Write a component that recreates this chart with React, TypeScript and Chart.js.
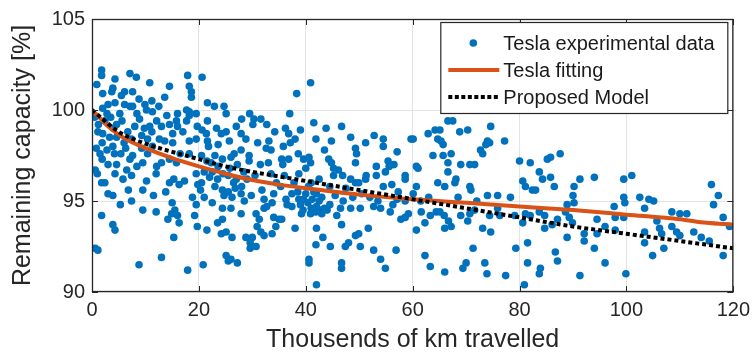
import React, { useEffect, useRef } from "react";
import { Chart, registerables } from "chart.js";

Chart.register(...registerables);

// ---- Axis ticks ----
const xTickValues = [0, 20, 40, 60, 80, 100, 120];
const yTickValues = [90, 95, 100, 105];

// ---- Labels ----
const xTitle = "Thousends of km travelled";
const yTitle = "Remaining capacity [%]";
const legendLabels = ["Tesla experimental data", "Tesla fitting", "Proposed Model"];

// ---- Fitted curves (thousand km, % capacity) ----
const fitKm = [0, 1, 2, 3, 5, 7, 10, 15, 20, 25, 30, 35, 40, 50, 60, 70, 80, 90, 100, 110, 115, 120];
const teslaFitting = [100, 99.7, 99.4, 99.1, 98.65, 98.3, 97.9, 97.35, 96.9, 96.5, 96.15, 95.9, 95.7, 95.35, 95.1, 94.9, 94.7, 94.5, 94.25, 94.0, 93.8, 93.7];
const proposedModel = [100, 99.75, 99.5, 99.25, 98.8, 98.5, 98.15, 97.7, 97.3, 96.9, 96.6, 96.35, 96.1, 95.6, 95.1, 94.6, 94.1, 93.6, 93.2, 92.8, 92.6, 92.4];

// ---- Tesla experimental data [km (thousands), capacity %] ----
const tesla0to20: [number, number][] = [
  [0.9, 101.4], [1.8, 102.2], [1.8, 101.9], [2.0, 100.9], [3.9, 101.2], [3.7, 101.0], [4.3, 101.7], [3.0, 100.3], [4.3, 100.4], [2.0, 100.1],
  [2.8, 99.8], [2.4, 99.4], [0.5, 99.6], [1.2, 99.2], [3.5, 99.6], [4.6, 99.2], [4.0, 99.0], [1.1, 98.8], [2.0, 98.7], [3.3, 98.5],
  [4.6, 98.5], [1.9, 98.2], [2.8, 97.8], [1.5, 97.6], [3.9, 98.0], [0.8, 97.9], [4.2, 97.6], [1.9, 97.3], [3.0, 97.0], [4.6, 97.0],
  [0.6, 96.7], [1.0, 96.5], [1.8, 96.0], [2.4, 96.0], [4.3, 96.5], [3.0, 95.4], [3.9, 95.3], [1.8, 94.2], [3.9, 93.7], [4.3, 93.4],
  [0.6, 92.4], [1.1, 92.3],
  [7.1, 102.0], [8.3, 101.8], [6.1, 101.0], [7.6, 101.0], [5.5, 100.8], [8.8, 100.6], [6.1, 100.3], [7.1, 100.2], [7.6, 100.2], [9.9, 100.3],
  [5.2, 99.8], [5.6, 99.4], [8.4, 99.8], [8.9, 99.5], [8.0, 99.1], [9.8, 99.0], [6.7, 98.8], [7.4, 98.4], [9.3, 98.6], [6.0, 98.2],
  [5.4, 97.6], [6.3, 97.9], [7.6, 97.5], [9.3, 97.9], [7.1, 97.3], [8.4, 96.9], [9.5, 97.1], [6.5, 96.7], [7.4, 96.4], [5.8, 96.2],
  [9.5, 95.6], [6.8, 95.6], [7.4, 95.0], [5.3, 94.8], [9.5, 94.5], [8.8, 91.5],
  [10.8, 101.5], [14.5, 101.3], [13.6, 100.7], [11.2, 100.5], [12.5, 100.2], [10.2, 100.0], [11.3, 99.9], [12.1, 99.4], [10.8, 99.1], [14.0, 99.7],
  [14.5, 99.2], [13.0, 99.1], [10.4, 98.4], [11.2, 98.8], [12.6, 98.4], [13.6, 98.3], [10.4, 97.6], [11.3, 98.0], [14.5, 97.3], [12.1, 96.9],
  [13.0, 97.1], [10.2, 96.1], [12.0, 96.5], [14.5, 96.0], [11.5, 95.3], [13.8, 95.5], [12.0, 94.4], [14.2, 94.0], [14.9, 94.3], [13.0, 91.9],
  [17.9, 101.9], [18.2, 101.3], [18.6, 101.0], [18.6, 100.7], [16.0, 99.8], [17.7, 100.0], [18.2, 99.9], [15.8, 99.4], [16.0, 99.1], [15.1, 98.7],
  [17.7, 99.4], [18.2, 99.7], [19.5, 99.8], [19.7, 99.1], [17.0, 98.8], [15.1, 98.2], [19.5, 98.4], [18.2, 98.3], [18.2, 97.6], [15.8, 97.1],
  [16.5, 97.6], [19.5, 96.5], [15.3, 96.2], [16.3, 95.9], [17.3, 96.1], [19.8, 95.9], [18.8, 95.2], [15.0, 94.9], [19.5, 94.8], [15.5, 94.5],
  [16.0, 94.2], [19.2, 94.2], [16.3, 93.8], [19.7, 93.6], [15.3, 93.0], [17.9, 91.2],
];

const tesla20to40: [number, number][] = [
  [20.6, 101.8], [21.6, 100.4], [22.9, 100.2], [24.7, 100.2], [21.6, 99.4], [20.6, 98.9], [21.4, 98.7], [23.3, 99.0], [24.2, 98.7], [21.6, 98.3],
  [21.8, 98.0], [23.6, 98.1], [23.0, 97.5], [21.5, 97.2], [22.3, 97.1], [23.6, 96.9], [24.4, 97.3], [20.5, 97.5], [21.0, 96.6], [22.5, 96.6],
  [22.0, 96.3], [23.5, 96.2], [24.5, 96.5], [20.5, 96.0], [20.3, 95.6], [23.0, 95.8], [24.4, 95.6], [24.7, 95.3], [21.0, 95.2], [22.5, 94.9],
  [24.4, 94.6], [24.4, 94.0], [23.5, 93.8], [21.5, 93.4], [24.2, 93.2], [20.8, 91.5],
  [25.1, 99.8], [28.0, 99.5], [29.5, 99.8], [25.1, 98.8], [25.7, 98.3], [27.0, 99.1], [27.9, 98.7], [28.8, 98.4], [26.0, 97.4], [26.6, 97.6],
  [27.9, 97.8], [29.4, 97.5], [27.2, 97.0], [29.4, 97.2], [25.8, 96.8], [25.5, 96.4], [26.5, 96.0], [27.0, 96.2], [28.4, 96.6], [29.0, 96.2],
  [28.0, 95.8], [25.5, 95.5], [26.8, 95.7], [27.9, 95.4], [26.2, 95.2], [29.8, 95.3], [28.5, 95.0], [26.0, 94.6], [27.9, 94.3], [25.1, 93.3],
  [26.2, 93.0], [28.8, 93.0], [29.6, 92.7], [29.6, 92.4], [25.1, 92.0], [26.0, 91.8], [25.5, 91.7], [27.2, 91.6],
  [30.3, 99.5], [31.6, 99.5], [32.7, 99.2], [30.1, 99.2], [31.0, 98.2], [34.2, 98.8], [33.1, 98.3], [32.6, 97.9], [33.5, 97.8], [31.5, 97.0],
  [33.0, 97.1], [33.5, 96.5], [30.5, 96.4], [34.5, 96.0], [31.8, 95.6], [34.0, 95.4], [32.2, 95.1], [33.7, 94.9], [32.7, 94.7], [32.2, 94.6],
  [30.7, 94.3], [34.0, 94.1], [31.3, 94.0], [30.9, 93.6], [34.4, 93.6], [31.6, 93.3], [33.7, 93.2], [32.2, 93.1], [30.0, 93.0], [30.7, 92.5],
  [38.3, 100.9], [37.0, 99.8], [36.2, 99.0], [39.0, 98.9], [36.8, 98.7], [38.0, 98.4], [37.1, 98.2], [35.8, 98.0], [38.6, 97.6], [39.6, 97.3],
  [35.5, 97.3], [36.8, 97.3], [35.7, 97.0], [38.7, 96.5], [36.0, 96.4], [37.8, 96.0], [35.3, 95.8], [38.5, 95.5], [37.4, 95.4], [38.7, 95.1],
  [36.3, 95.1], [39.6, 95.1], [39.0, 94.8], [36.5, 94.8], [37.4, 94.7], [39.5, 94.5], [39.2, 94.3], [35.0, 94.0], [35.5, 94.0], [38.0, 93.5],
];

const tesla40to80: [number, number][] = [
  [40.9, 101.5], [41.5, 99.3], [43.8, 99.0], [41.9, 98.4], [44.8, 98.3], [43.5, 97.8], [40.6, 97.4], [40.9, 97.1], [44.3, 97.3], [44.8, 97.1],
  [40.0, 96.8], [42.5, 96.2], [41.0, 96.0], [44.5, 95.8], [40.5, 95.8], [41.5, 95.5], [40.0, 95.4], [42.0, 95.4], [43.0, 95.2], [41.2, 95.1],
  [42.5, 95.0], [40.4, 94.9], [44.5, 94.8], [42.0, 94.7], [41.0, 94.6], [43.5, 94.6], [42.8, 94.5], [44.0, 94.5], [41.9, 94.4], [40.9, 94.3],
  [43.0, 94.3], [42.0, 93.5], [43.2, 93.0], [41.9, 92.6], [44.6, 92.5], [40.6, 91.8], [40.6, 91.6], [42.0, 90.4],
  [46.7, 99.1], [48.4, 98.5], [49.3, 97.9], [49.5, 97.6], [49.3, 97.1], [45.2, 96.8], [46.1, 96.7], [45.2, 96.4], [46.9, 96.4], [48.4, 96.2],
  [49.9, 96.0], [49.3, 96.0], [47.5, 95.7], [45.5, 95.3], [48.8, 95.2], [47.0, 95.0], [46.5, 94.6], [48.4, 94.6], [45.8, 94.2], [46.7, 93.7],
  [49.9, 93.2], [49.3, 93.1], [48.0, 92.7], [47.4, 92.5], [46.7, 91.6], [46.7, 91.3],
  [52.8, 98.6], [54.5, 98.4], [51.2, 98.2], [54.5, 98.0], [55.4, 97.2], [53.2, 96.9], [54.9, 96.6], [51.3, 96.4], [53.2, 96.4], [51.2, 96.2],
  [54.5, 95.8], [50.5, 95.4], [52.0, 95.2], [53.5, 95.0], [52.7, 94.7], [50.2, 94.6], [54.0, 94.6], [51.7, 93.5], [50.2, 92.5], [52.7, 92.3],
  [54.0, 91.8], [54.9, 91.3],
  [59.7, 98.4], [57.1, 97.7], [56.5, 97.0], [55.6, 96.9], [58.6, 96.4], [58.6, 96.2], [56.1, 95.9], [57.3, 95.5], [57.1, 95.1], [58.6, 95.0],
  [56.3, 94.8], [55.8, 94.4], [59.2, 94.3], [58.6, 94.1], [57.8, 94.0], [56.9, 92.3],
  [60.1, 98.4], [62.9, 98.7], [64.2, 98.9], [64.7, 98.4], [63.8, 97.5], [61.0, 96.8], [60.7, 96.9], [64.7, 96.0], [60.7, 95.8], [60.1, 95.4],
  [63.0, 95.2], [61.5, 95.0], [61.6, 94.4], [64.4, 94.4], [63.3, 94.2], [62.3, 93.8], [60.7, 93.4], [62.3, 92.0], [63.3, 91.4],
  [66.6, 99.4], [67.5, 99.4], [65.1, 98.9], [68.8, 98.8], [65.3, 98.3], [65.7, 98.1], [67.2, 97.6], [65.7, 97.5], [66.6, 97.1], [69.0, 97.0],
  [66.6, 96.6], [67.9, 96.0], [68.1, 96.2], [66.0, 95.8], [68.5, 95.2], [65.1, 94.4], [65.9, 94.2], [69.0, 94.2], [66.7, 93.9], [67.2, 93.6],
  [66.0, 93.5], [69.4, 91.3], [66.0, 91.1],
  [70.3, 98.9], [74.6, 99.1], [74.0, 98.3], [74.4, 98.2], [73.7, 98.1], [72.7, 97.8], [73.1, 97.6], [70.7, 97.0], [71.6, 97.0], [70.7, 95.8],
  [70.9, 95.6], [74.0, 95.3], [72.0, 95.0], [71.6, 94.5], [70.7, 94.3], [74.4, 94.2], [70.3, 93.9], [73.1, 93.5], [74.6, 93.3], [71.3, 92.4],
  [70.0, 91.6], [73.5, 91.6], [73.9, 91.0],
  [77.2, 98.3], [75.9, 95.3], [78.3, 95.2], [75.9, 94.6], [76.3, 94.2], [79.1, 94.2], [79.3, 92.4], [77.4, 90.9],
];

const tesla80to120: [number, number][] = [
  [80.0, 97.2], [82.0, 97.1], [83.7, 96.6], [80.6, 96.1], [84.3, 96.2], [81.1, 95.8], [82.4, 95.6], [83.0, 95.6], [81.1, 94.3], [82.0, 94.2],
  [83.7, 94.4], [84.7, 94.2], [80.6, 93.8], [84.7, 93.5], [81.5, 92.7], [81.5, 91.6], [83.9, 91.3], [83.7, 91.0], [80.9, 90.4],
  [85.2, 97.3], [85.8, 97.4], [87.6, 97.6], [85.8, 96.3], [86.5, 95.8], [88.9, 94.8], [88.6, 94.4], [87.1, 94.0], [89.3, 94.1], [86.1, 93.7],
  [89.9, 93.8], [88.9, 93.0], [86.7, 92.2], [87.1, 91.7],
  [90.2, 95.8], [91.3, 96.2], [94.0, 96.3], [90.0, 95.3], [90.2, 94.9], [94.5, 94.0], [96.0, 93.6], [94.5, 93.2], [92.1, 93.2], [92.1, 92.8],
  [94.0, 92.4], [91.3, 90.9],
  [99.5, 96.2], [99.5, 95.2], [99.7, 94.9], [97.7, 94.7], [97.9, 94.1], [99.5, 94.1], [97.9, 93.4], [96.0, 91.6], [99.9, 91.0],
  [101.0, 96.4], [102.5, 95.2], [104.2, 95.1], [103.4, 94.6], [103.4, 93.3], [103.4, 92.7], [104.9, 92.0],
  [105.1, 95.0], [105.7, 93.9], [106.2, 93.5], [106.6, 93.2], [107.0, 92.4], [108.5, 94.4], [108.5, 93.6], [109.4, 93.3], [110.0, 93.1], [110.0, 94.3],
  [111.3, 94.3], [112.6, 93.3], [114.0, 93.0], [115.5, 92.8], [115.9, 95.9], [117.2, 95.3], [116.3, 94.8], [118.1, 94.1], [119.3, 93.6], [118.1, 92.0],
];

const FONT = "'Liberation Sans', Arial, Helvetica, sans-serif";
const AXIS_COLOR = "#262626";
const BLUE = "#0072BD";
const ORANGE = "#D95319";

const framePlugin = {
  id: "matlabFrame",
  afterDraw(chart: any) {
    const { ctx, chartArea } = chart;
    const { left, right, top, bottom } = chartArea;
    const xs = chart.scales.x;
    const ys = chart.scales.y;
    ctx.save();
    // axes box
    ctx.strokeStyle = AXIS_COLOR;
    ctx.lineWidth = 1.3;
    ctx.strokeRect(left + 0.5, top + 0.5, right - left - 1, bottom - top - 1);
    // inward tick marks
    ctx.lineWidth = 1;
    ctx.beginPath();
    for (const t of xTickValues) {
      const px = Math.round(xs.getPixelForValue(t)) + 0.5;
      ctx.moveTo(px, bottom);
      ctx.lineTo(px, bottom - 6);
      ctx.moveTo(px, top);
      ctx.lineTo(px, top + 6);
    }
    for (const t of yTickValues) {
      const py = Math.round(ys.getPixelForValue(t)) + 0.5;
      ctx.moveTo(left, py);
      ctx.lineTo(left + 6, py);
      ctx.moveTo(right, py);
      ctx.lineTo(right - 6, py);
    }
    ctx.stroke();

    // legend box
    const bw = 287;
    const bh = 91;
    const bx = right - 293;
    const by = top + 3;
    ctx.fillStyle = "#ffffff";
    ctx.fillRect(bx, by, bw, bh);
    ctx.strokeStyle = AXIS_COLOR;
    ctx.lineWidth = 1.2;
    ctx.strokeRect(bx + 0.5, by + 0.5, bw, bh);

    const rows = [by + 21, by + 48, by + 75];
    const lineX0 = bx + 8;
    const lineX1 = bx + 59;
    // marker
    ctx.fillStyle = BLUE;
    ctx.beginPath();
    ctx.arc(bx + 33, rows[0], 3.8, 0, Math.PI * 2);
    ctx.fill();
    // orange line
    ctx.strokeStyle = ORANGE;
    ctx.lineWidth = 4;
    ctx.setLineDash([]);
    ctx.beginPath();
    ctx.moveTo(lineX0, rows[1]);
    ctx.lineTo(lineX1, rows[1]);
    ctx.stroke();
    // dotted line
    ctx.strokeStyle = "#000000";
    ctx.lineWidth = 4;
    ctx.setLineDash([4, 2.5]);
    ctx.beginPath();
    ctx.moveTo(lineX0, rows[2]);
    ctx.lineTo(lineX1, rows[2]);
    ctx.stroke();
    ctx.setLineDash([]);
    // texts
    ctx.fillStyle = "#1a1a1a";
    ctx.font = `20px ${FONT}`;
    ctx.textAlign = "left";
    ctx.textBaseline = "middle";
    legendLabels.forEach((label, i) => {
      ctx.fillText(label, bx + 63, rows[i] + 1);
    });
    ctx.restore();
  },
};

export default function App() {
  const canvasRef = useRef<HTMLCanvasElement>(null);

  useEffect(() => {
    const canvas = canvasRef.current;
    if (!canvas) return;
    const experimental = [...tesla0to20, ...tesla20to40, ...tesla40to80, ...tesla80to120].map(([x, y]) => ({ x, y }));
    const fitData = fitKm.map((x, i) => ({ x, y: teslaFitting[i] }));
    const modelData = fitKm.map((x, i) => ({ x, y: proposedModel[i] }));

    const chart = new Chart(canvas, {
      type: "scatter",
      data: {
        datasets: [
          {
            label: legendLabels[0],
            data: experimental,
            backgroundColor: BLUE,
            borderWidth: 0,
            pointRadius: 3.8,
            pointHoverRadius: 3.8,
            order: 3,
          },
          {
            type: "line",
            label: legendLabels[1],
            data: fitData,
            borderColor: ORANGE,
            borderWidth: 4,
            pointRadius: 0,
            cubicInterpolationMode: "monotone",
            fill: false,
            order: 2,
          } as any,
          {
            type: "line",
            label: legendLabels[2],
            data: modelData,
            borderColor: "#000000",
            borderWidth: 4,
            borderDash: [4, 3],
            borderCapStyle: "butt",
            pointRadius: 0,
            cubicInterpolationMode: "monotone",
            fill: false,
            order: 1,
          } as any,
        ],
      },
      options: {
        responsive: false,
        animation: false,
        events: [],
        layout: { padding: { left: 0, right: 19, top: 13, bottom: 0 } },
        plugins: {
          legend: { display: false },
          tooltip: { enabled: false },
          title: { display: false },
        },
        scales: {
          x: {
            type: "linear",
            min: 0,
            max: 120,
            afterBuildTicks: (scale: any) => {
              scale.ticks = xTickValues.map((v) => ({ value: v }));
            },
            afterFit: (scale: any) => {
              scale.height = 66;
            },
            grid: { color: "#e4e4e4", lineWidth: 1, drawTicks: false },
            border: { display: false },
            ticks: {
              padding: 6,
              color: AXIS_COLOR,
              font: { family: FONT, size: 20 },
              maxRotation: 0,
            },
            title: {
              display: true,
              text: xTitle,
              color: AXIS_COLOR,
              font: { family: FONT, size: 25 },
              padding: { top: 0, bottom: 3 },
            },
          },
          y: {
            type: "linear",
            min: 90,
            max: 105,
            afterBuildTicks: (scale: any) => {
              scale.ticks = yTickValues.map((v) => ({ value: v }));
            },
            afterFit: (scale: any) => {
              scale.width = 92;
            },
            grid: { color: "#e4e4e4", lineWidth: 1, drawTicks: false },
            border: { display: false },
            ticks: {
              padding: 7,
              color: AXIS_COLOR,
              font: { family: FONT, size: 20 },
            },
            title: {
              display: true,
              text: yTitle,
              color: AXIS_COLOR,
              font: { family: FONT, size: 25 },
              padding: { top: 8, bottom: 0 },
            },
          },
        },
      },
      plugins: [framePlugin],
    });

    return () => chart.destroy();
  }, []);

  return (
    <div style={{ position: "fixed", left: 0, top: 0, width: 756, height: 358, background: "#ffffff" }}>
      <canvas ref={canvasRef} width={756} height={358} style={{ display: "block", width: 756, height: 358 }} />
    </div>
  );
}
